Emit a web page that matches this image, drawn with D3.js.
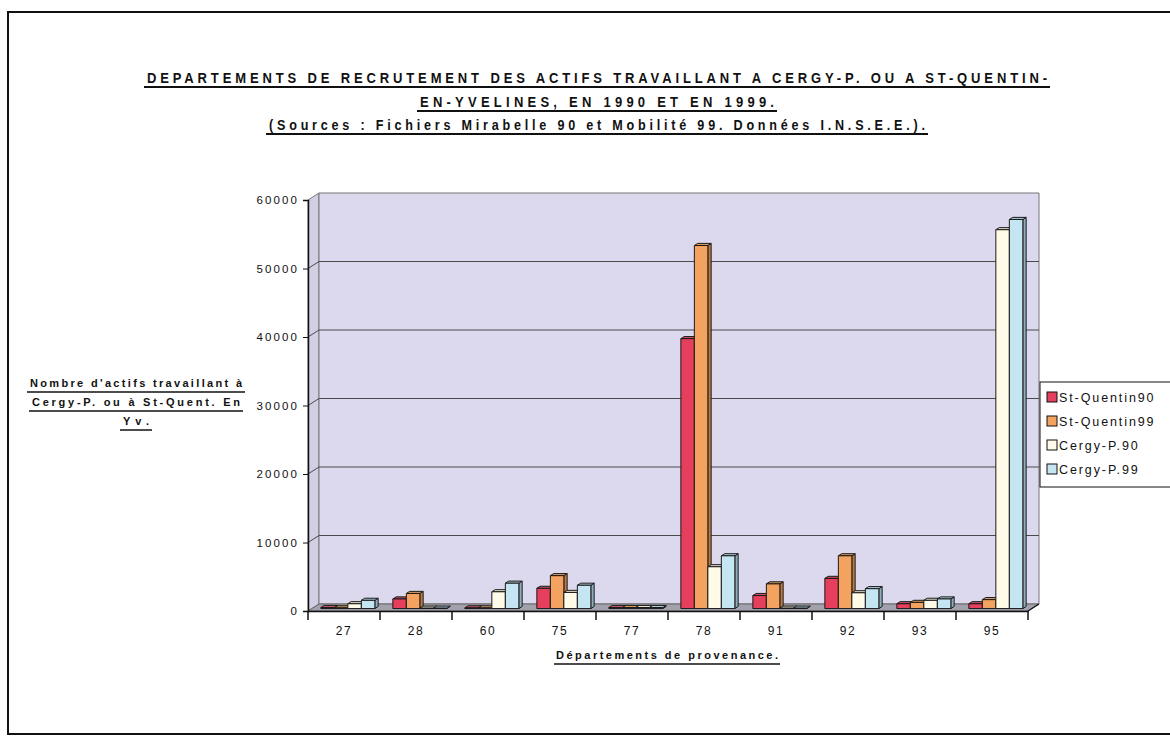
<!DOCTYPE html>
<html><head><meta charset="utf-8">
<script src="https://cdn.jsdelivr.net/npm/d3@7"></script>
<style>
html,body{margin:0;padding:0;background:#fff;}
svg{display:block;}
text{font-family:"Liberation Sans",Arial,sans-serif;fill:#111;}
</style></head>
<body>
<svg id="chart" width="1170" height="737"></svg>
<script>
const categories = ["27","28","60","75","77","78","91","92","93","95"];
const seriesNames = ["St-Quentin90","St-Quentin99","Cergy-P.90","Cergy-P.99"];
const stQuentin90 = [150, 1400, 100, 2950, 150, 39400, 1900, 4400, 700, 700];
const stQuentin99 = [100, 2200, 100, 4800, 150, 53000, 3600, 7700, 900, 1300];
const cergy90     = [700,   50, 2450, 2350, 150, 6100,   50, 2300, 1200, 55300];
const cergy99     = [1200,  50, 3700, 3400, 150, 7700,   50, 2900, 1400, 56800];
const yTicks = [0,10000,20000,30000,40000,50000,60000];
const titleLines = [
  "DEPARTEMENTS DE RECRUTEMENT DES ACTIFS TRAVAILLANT A CERGY-P. OU A ST-QUENTIN-",
  "EN-YVELINES, EN 1990 ET EN 1999.",
  "(Sources : Fichiers Mirabelle 90 et Mobilité 99. Données I.N.S.E.E.)."
];
const yTitleLines = ["Nombre d'actifs travaillant à","Cergy-P. ou à St-Quent. En","Yv."];
const xTitle = "Départements de provenance.";

const seriesValues = [stQuentin90, stQuentin99, cergy90, cergy99];
const faceColors = ["#e43f5c","#f4a25f","#fffbe8","#c6e5f2"];
const topColors  = ["#c95468","#d99a5c","#e6e2cc","#aecbd8"];
const sideColors = ["#a3304a","#bd7a42","#c4bfa8","#8eaebd"];

const svg = d3.select("#chart");

// outer frame
svg.append("rect").attr("x",8).attr("y",12).attr("width",1175).attr("height",722)
  .attr("fill","none").attr("stroke","#111").attr("stroke-width",2);

// titles (condensed look via horizontal scale)
const titleY = [77,101,124];
const titleW = [900,354,656];
const titleFs = [15.5,15.5,15];
const sx = 0.84;
titleLines.forEach((t,i)=>{
  svg.append("text").attr("transform",`translate(597,${titleY[i]+5.5}) scale(${sx},1)`)
    .attr("text-anchor","middle").attr("font-size",titleFs[i]).attr("font-weight","bold")
    .attr("textLength",titleW[i]/sx).attr("lengthAdjust","spacing").text(t);
  svg.append("line").attr("x1",597-titleW[i]/2-3).attr("x2",597+titleW[i]/2+3)
    .attr("y1",titleY[i]+10).attr("y2",titleY[i]+10).attr("stroke","#111").attr("stroke-width",2.2);
});

// scales
const x0 = 308, x1 = 1028;
const x = d3.scaleBand().domain(categories).range([x0,x1]).paddingInner(0).paddingOuter(0);
const xs = d3.scaleBand().domain(seriesNames).range([0,x.bandwidth()]).paddingInner(0).paddingOuter(0.667);
const y = d3.scaleLinear().domain([0,60000]).range([611,200]);
const DX = 11, DY = -7;
const P = (px,v,d)=>[px+DX*d, y(v)+DY*d];
const poly = pts => pts.map(p=>p.join(",")).join(" ");

// walls
const g = svg.append("g");
g.append("polygon").attr("points",poly([P(x0,0,0),P(x0,0,1),P(x0,60000,1),P(x0,60000,0)]))
  .attr("fill","#d2cee4").attr("stroke","#777").attr("stroke-width",1);
g.append("polygon").attr("points",poly([P(x0,0,1),P(x1,0,1),P(x1,60000,1),P(x0,60000,1)]))
  .attr("fill","#dcd8ee").attr("stroke","#777").attr("stroke-width",1);
g.append("polygon").attr("points",poly([P(x0,0,0),P(x1,0,0),P(x1,0,1),P(x0,0,1)]))
  .attr("fill","#a2a2ae").attr("stroke","#666").attr("stroke-width",1);

// gridlines
yTicks.filter(t=>t>0 && t<60000).forEach(t=>{
  g.append("polyline").attr("points",poly([P(x0,t,0),P(x0,t,1),P(x1,t,1)]))
    .attr("fill","none").attr("stroke","#4a4a4a").attr("stroke-width",1);
});

// bars
categories.forEach((c,i)=>{
  seriesNames.forEach((s,j)=>{
    const v = seriesValues[j][i];
    const xl = x(c)+xs(s), w = xs.bandwidth();
    const d0 = 0.35, d1 = 0.65;
    const bg = g.append("g").attr("stroke","#1a1a1a").attr("stroke-width",1).attr("stroke-linejoin","round");
    bg.append("polygon").attr("points",poly([P(xl+w,0,d0),P(xl+w,v,d0),P(xl+w,v,d1),P(xl+w,0,d1)]))
      .attr("fill",sideColors[j]);
    bg.append("polygon").attr("points",poly([P(xl,v,d0),P(xl+w,v,d0),P(xl+w,v,d1),P(xl,v,d1)]))
      .attr("fill",topColors[j]);
    bg.append("polygon").attr("points",poly([P(xl,0,d0),P(xl+w,0,d0),P(xl+w,v,d0),P(xl,v,d0)]))
      .attr("fill",faceColors[j]);
  });
});

// y axis
const yAxis = d3.axisLeft(y).tickValues(yTicks).tickSize(5).tickPadding(4).tickFormat(d3.format("d"));
const ya = svg.append("g").attr("transform",`translate(${x0},0)`).call(yAxis);
ya.select(".domain").attr("stroke","#111").attr("stroke-width",1.5);
ya.selectAll(".tick line").attr("stroke","#111");
ya.selectAll(".tick text").attr("font-size",11.5).attr("letter-spacing",2.1).attr("fill","#111")
  .attr("font-family","'Liberation Sans',Arial,sans-serif");

// x axis
const xAxis = d3.axisBottom(x).tickSize(0).tickPadding(15);
const xa = svg.append("g").attr("transform",`translate(0,${y(0)})`).call(xAxis);
xa.select(".domain").attr("stroke","#111").attr("stroke-width",1.5);
xa.selectAll(".tick text").attr("font-size",12).attr("letter-spacing",1.5).attr("fill","#111")
  .attr("font-family","'Liberation Sans',Arial,sans-serif");
const bounds = categories.map(c=>x(c)).concat([x1]);
svg.append("g").selectAll("line").data(bounds).join("line")
  .attr("x1",d=>d).attr("x2",d=>d).attr("y1",y(0)).attr("y2",y(0)+9)
  .attr("stroke","#111").attr("stroke-width",1.5);
svg.append("line").attr("x1",x1).attr("y1",y(0)).attr("x2",x1+DX).attr("y2",y(0)+DY)
  .attr("stroke","#111").attr("stroke-width",1.2);

// y title
const yTitleY = [383,402,421];
const yTitleW = [212,208,26];
yTitleLines.forEach((t,i)=>{
  svg.append("text").attr("x",136).attr("y",yTitleY[i]+4).attr("text-anchor","middle")
    .attr("font-size",11).attr("font-weight","bold")
    .attr("textLength",yTitleW[i]).attr("lengthAdjust","spacing").text(t);
  svg.append("line").attr("x1",136-yTitleW[i]/2-3).attr("x2",136+yTitleW[i]/2+3)
    .attr("y1",yTitleY[i]+9).attr("y2",yTitleY[i]+9).attr("stroke","#111").attr("stroke-width",1.5);
});

// x title
svg.append("text").attr("x",667).attr("y",659).attr("text-anchor","middle")
  .attr("font-size",11).attr("font-weight","bold")
  .attr("textLength",222).attr("lengthAdjust","spacing").text(xTitle);
svg.append("line").attr("x1",554).attr("x2",780).attr("y1",664).attr("y2",664)
  .attr("stroke","#111").attr("stroke-width",1.5);

// legend
const lg = svg.append("g").attr("transform","translate(1040,382)");
lg.append("rect").attr("width",140).attr("height",105).attr("fill","#fff").attr("stroke","#111").attr("stroke-width",1);
seriesNames.forEach((s,j)=>{
  const yy = 15 + j*24;
  lg.append("rect").attr("x",7).attr("y",yy-5).attr("width",10).attr("height",10)
    .attr("fill",faceColors[j]).attr("stroke","#111").attr("stroke-width",1);
  lg.append("text").attr("x",19).attr("y",yy+4.5).attr("font-size",12.5)
    .attr("letter-spacing",1.9).text(s);
});
</script>
</body></html>
